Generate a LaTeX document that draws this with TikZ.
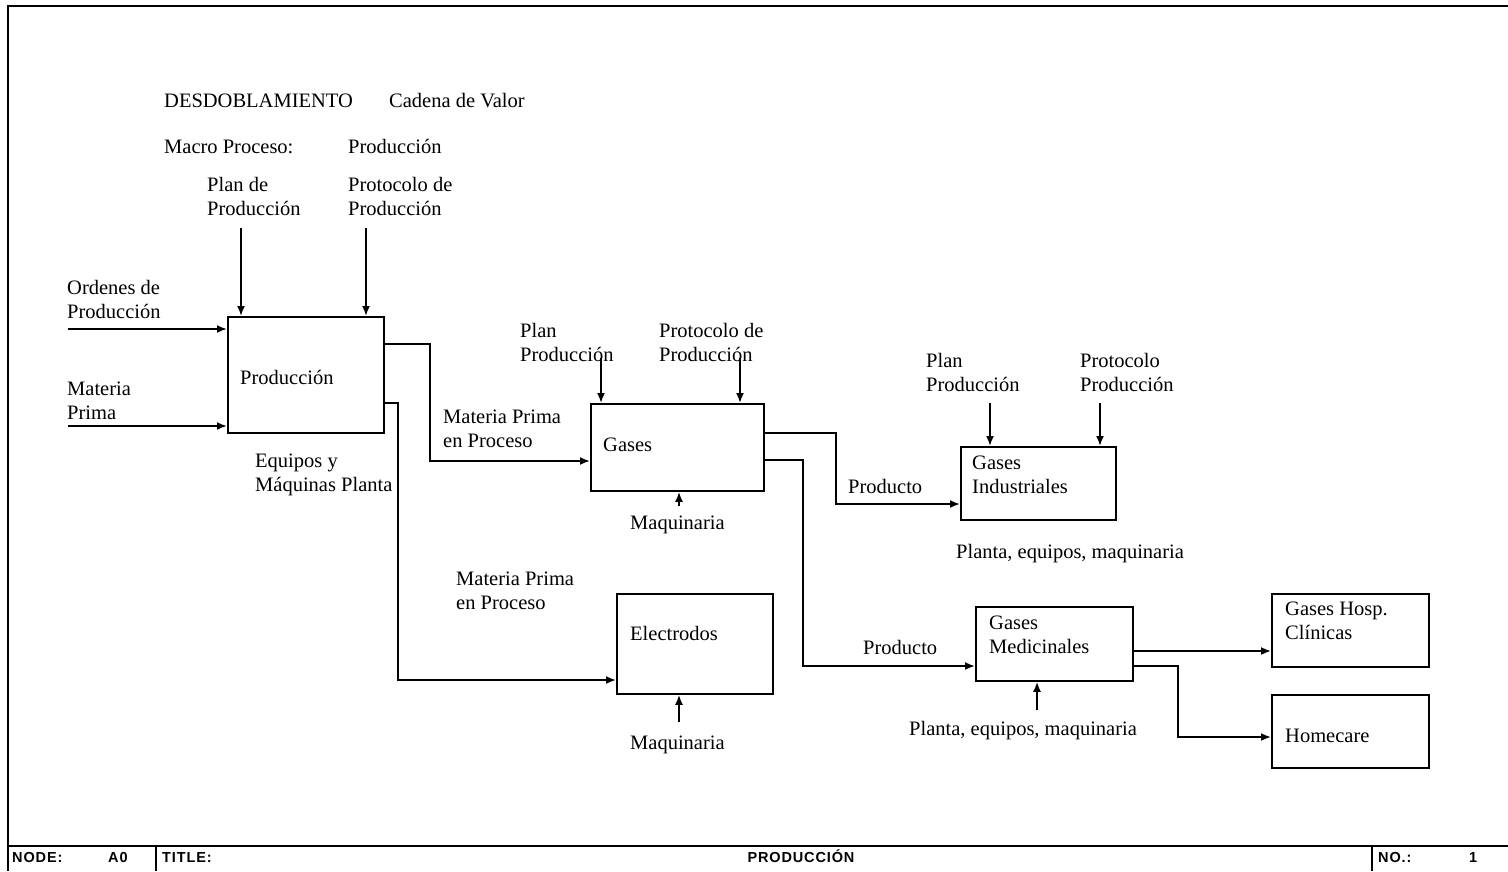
\documentclass[tikz,border=0pt]{standalone}
\usepackage{fontspec}
\setmainfont{Liberation Serif}
\newfontfamily\footfont[LetterSpace=6]{Liberation Sans Bold}
\usetikzlibrary{arrows.meta}
\tikzset{
  lw/.style={line width=1.8pt},
  box/.style={draw, lw, inner sep=0pt, anchor=north west},
  arr/.style={lw, -{Latex[length=10pt,width=8pt]}},
  txt/.style={inner sep=0pt, anchor=base west, font=\fontsize{20.5}{24}\selectfont},
  mtxt/.style={inner sep=0pt, anchor=north west, align=left, font=\fontsize{20.5}{24}\selectfont},
  foot/.style={inner sep=0pt, anchor=base west, font=\footfont\fontsize{14.5}{16}\selectfont},
}
\begin{document}
\begin{tikzpicture}[x=1pt, y=-1pt]
\useasboundingbox (0,0) rectangle (1508,871);
% sheet frame and footer
\draw[line width=2.6pt] (1508,6) -- (8,6) -- (8,871);
\draw[line width=2.2pt] (8,846) -- (1508,846);
\draw[line width=2pt] (156,846) -- (156,871);
\draw[line width=2pt] (1372,846) -- (1372,871);
\node[foot] (fnode) at (12,862) {NODE:};
\node[foot] (fa0) at (108,862) {A0};
\node[foot] (ftitle) at (162,862) {TITLE:};
\node[foot, anchor=base] (fname) at (801,862) {PRODUCCIÓN};
\node[foot] (fno) at (1378,862) {NO.:};
\node[foot] (fnum) at (1469,862) {1};

% heading
\node[txt] (h1) at (164,107) {DESDOBLAMIENTO};
\node[txt] (h2) at (389,107) {Cadena de Valor};
\node[txt] (h3) at (164,153) {Macro Proceso:};
\node[txt] (h4) at (348,153) {Producción};

% activity boxes
\node[box, minimum width=156pt, minimum height=116pt] (prod) at (227,316) {};
\node[box, minimum width=173pt, minimum height=87pt] (gases) at (590,403) {};
\node[box, minimum width=156pt, minimum height=100pt] (elec) at (616,593) {};
\node[box, minimum width=155pt, minimum height=73pt] (gind) at (960,446) {};
\node[box, minimum width=157pt, minimum height=74pt] (gmed) at (975,606) {};
\node[box, minimum width=157pt, minimum height=73pt] (ghosp) at (1271,593) {};
\node[box, minimum width=157pt, minimum height=73pt] (home) at (1271,694) {};

% box titles
\node[txt] (tprod) at (240,384) {Producción};
\node[txt] (tgases) at (603,451) {Gases};
\node[txt] (telec) at (630,640) {Electrodos};
\node[mtxt] (tgind) at (972,456) {Gases\\Industriales};
\node[mtxt] (tgmed) at (989,616) {Gases\\Medicinales};
\node[mtxt] (tghosp) at (1285,602) {Gases Hosp.\\Clínicas};
\node[txt] (thome) at (1285,742) {Homecare};

% arrow labels
\node[mtxt] (lplan1) at (207,177) {Plan de\\Producción};
\node[mtxt] (lprot1) at (348,177) {Protocolo de\\Producción};
\node[mtxt] (lord) at (67,280) {Ordenes de\\Producción};
\node[mtxt] (lmat) at (67,382) {Materia\\Prima};
\node[mtxt] (lmp1) at (443,410) {Materia Prima\\en Proceso};
\node[mtxt] (lequ) at (255,454) {Equipos y\\Máquinas Planta};
\node[mtxt] (lplan2) at (520,323) {Plan\\Producción};
\node[mtxt] (lprot2) at (659,323) {Protocolo de\\Producción};
\node[txt] (lmaq1) at (630,529) {Maquinaria};
\node[txt] (lprod1) at (848,493) {Producto};
\node[mtxt] (lplan3) at (926,353) {Plan\\Producción};
\node[mtxt] (lprot3) at (1080,353) {Protocolo\\Producción};
\node[txt] (lpeq1) at (956,558) {Planta, equipos, maquinaria};
\node[mtxt] (lmp2) at (456,572) {Materia Prima\\en Proceso};
\node[txt] (lmaq2) at (630,749) {Maquinaria};
\node[txt] (lprod2) at (863,654) {Producto};
\node[txt] (lpeq2) at (909,735) {Planta, equipos, maquinaria};

% free ends of boundary arrows
\coordinate (inord) at (68,329);
\coordinate (inmat) at (68,426);
\coordinate (cplan1) at (241,228);
\coordinate (cprot1) at (366,228);
\coordinate (cplan2) at (601,358);
\coordinate (cprot2) at (740,358);
\coordinate (cplan3) at (990,403);
\coordinate (cprot3) at (1100,403);
\coordinate (mmaq1) at (679,506);
\coordinate (mmaq2) at (679,722);
\coordinate (mpeq2) at (1037,710);

% inputs and controls
\draw[arr] (inord) -- (prod.west |- inord);
\draw[arr] (inmat) -- (prod.west |- inmat);
\draw[arr] (cplan1) -- (prod.north -| cplan1);
\draw[arr] (cprot1) -- (prod.north -| cprot1);
\draw[arr] (cplan2) -- (gases.north -| cplan2);
\draw[arr] (cprot2) -- (gases.north -| cprot2);
\draw[arr] (cplan3) -- (gind.north -| cplan3);
\draw[arr] (cprot3) -- (gind.north -| cprot3);
% mechanisms
\draw[arr] (mmaq1) -- (gases.south -| mmaq1);
\draw[arr] (mmaq2) -- (elec.south -| mmaq2);
\draw[arr] (mpeq2) -- (gmed.south -| mpeq2);

% outputs
\draw[arr] (prod.east |- 0,344) -- (430,344) |- (gases.west |- 0,461);
\draw[arr] (prod.east |- 0,403) -- (398,403) |- (elec.west |- 0,680);
\draw[arr] (gases.east |- 0,433) -- (836,433) |- (gind.west |- 0,504);
\draw[arr] (gases.east |- 0,460) -- (803,460) |- (gmed.west |- 0,666);
\draw[arr] (gmed.east |- 0,651) -- (ghosp.west |- 0,651);
\draw[arr] (gmed.east |- 0,666) -- (1178,666) |- (home.west |- 0,737);
\end{tikzpicture}
\end{document}
